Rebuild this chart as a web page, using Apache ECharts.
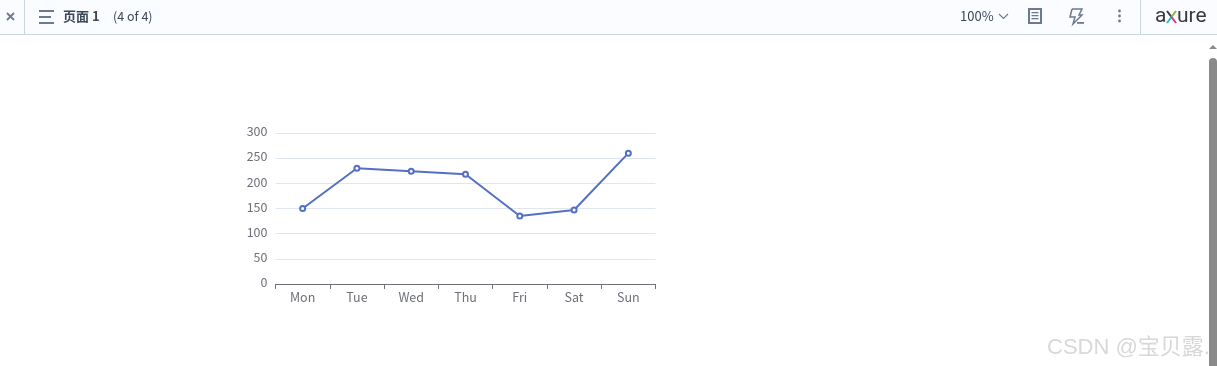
<!DOCTYPE html>
<html><head><meta charset="utf-8">
<style>html,body{margin:0;padding:0;background:#fff;overflow:hidden}#c{width:1217px;height:366px}</style>
<script src="https://cdn.jsdelivr.net/npm/echarts@6/dist/echarts.min.js"></script>
</head><body><div id="c"></div>
<script>
const categories = ['Mon','Tue','Wed','Thu','Fri','Sat','Sun'];
const values = [150,230,224,218,135,147,260];
const yTicks = {min:0,max:300,interval:50};
const font = '"Noto Sans CJK SC","Noto Sans",sans-serif';
const chromeBorder = '#c9d6e3', iconCol = '#6b7a90', textCol = '#3c4858', logoCol = '#3a3a3c';
const t=(x,y,text,o={})=>({type:'text',x,y,style:Object.assign({text,fontFamily:font,fontSize:12,fill:textCol,textVerticalAlign:'middle'},o)});
const r=(x,y,w,h,fill,extra={})=>({type:'rect',shape:Object.assign({x,y,width:w,height:h},extra),style:{fill}});
const seg=(x1,y1,x2,y2,stroke,lw=1.5)=>({type:'line',shape:{x1,y1,x2,y2},style:{stroke,lineWidth:lw}});
const graphics=[
 r(0,0,1217,34,'#fbfcff'), r(0,34,1217,1,chromeBorder),
 r(24,0,1,34,chromeBorder), r(1140,0,1,34,chromeBorder),
 seg(7,13,14,20,iconCol,1.8), seg(14,13,7,20,iconCol,1.8),
 r(39,10,15,2,iconCol), r(39,16,12,2,iconCol), r(39,22,15,2,iconCol),
 t(63,16.5,'页面 1',{fontWeight:'bold',fontSize:13}),
 t(113,16.5,'(4 of 4)',{fontSize:12.5}),
 t(960,16.5,'100%',{fontSize:13}),
 {type:'polyline',shape:{points:[[999,14],[1003.5,18.5],[1008,14]]},style:{stroke:iconCol,lineWidth:1.2,fill:'none'}},
 {type:'rect',shape:{x:1029,y:9,width:12,height:14},style:{stroke:iconCol,lineWidth:2,fill:'none'}},
 r(1031.5,12,7,1.3,iconCol), r(1031.5,15,7,1.3,iconCol), r(1031.5,18,7,1.3,iconCol),
 {type:'polyline',shape:{points:[[1072,9],[1082,9],[1079,15],[1082,15],[1073,24],[1075,17],[1070,17],[1072,9]]},style:{stroke:iconCol,lineWidth:1.5,fill:'none'}},
 r(1077,22,7,1.8,iconCol),
 {type:'circle',shape:{cx:1119.5,cy:11,r:1.4},style:{fill:iconCol}},
 {type:'circle',shape:{cx:1119.5,cy:16,r:1.4},style:{fill:iconCol}},
 {type:'circle',shape:{cx:1119.5,cy:21,r:1.4},style:{fill:iconCol}},
 t(1155,16.5,'a',{fontSize:21,fill:logoCol,fontFamily:'Roboto, sans-serif'}),
 seg(1167,11,1171.5,17,logoCol,2), seg(1176,11,1171.5,17,'#7ac143',2),
 seg(1171.5,17,1167,23,'#29b6d8',2), seg(1171.5,17,1176,23,'#e0318f',2),
 t(1177,16.5,'ure',{fontSize:21,fill:logoCol,fontFamily:'Roboto, sans-serif'}),
 r(1209,58,8,308,'#8a8a8a',{r:[4,4,0,0]}),
 {type:'polygon',shape:{points:[[1209,49],[1213,45],[1217,49]]},style:{fill:'#8a8a8a'}},
 t(1047,348,'CSDN @宝贝露.',{fontSize:22,fill:'#d8d8d8',fontFamily:'"Liberation Sans","Noto Sans CJK SC",sans-serif'})
];
const chart=echarts.init(document.getElementById('c'),null,{renderer:'canvas'});
chart.setOption({
 animation:false,
 backgroundColor:'#fff',
 graphic:{elements:graphics},
 grid:{left:275.5,right:561.5,top:133,bottom:82,containLabel:false},
 xAxis:{type:'category',data:categories,boundaryGap:true,
   axisLine:{show:true,lineStyle:{color:'#6E7079',width:1}},
   axisTick:{show:true,alignWithLabel:false,length:5,lineStyle:{color:'#6E7079'}},
   axisLabel:{color:'#6E7079',fontSize:12.5,fontFamily:font,margin:7,interval:0},
   splitLine:{show:false}},
 yAxis:{type:'value',min:yTicks.min,max:yTicks.max,interval:yTicks.interval,
   axisLine:{show:false},axisTick:{show:false},
   axisLabel:{color:'#6E7079',fontSize:12.5,fontFamily:font,margin:8,verticalAlign:'bottom',lineHeight:3},
   splitLine:{show:true,lineStyle:{color:'#E0E6F1',width:1}}},
 series:[{type:'line',data:values,symbol:'emptyCircle',symbolSize:5,showSymbol:true,
   itemStyle:{color:'#5470c6',borderWidth:2},lineStyle:{color:'#5470c6',width:2}}]
});
</script></body></html>
